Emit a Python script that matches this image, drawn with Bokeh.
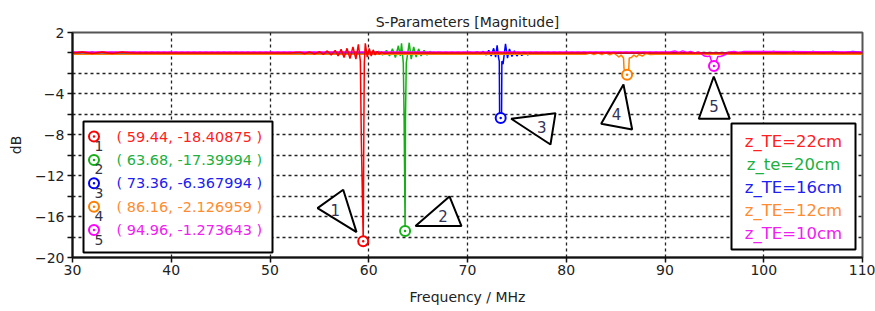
from bokeh.plotting import figure
from bokeh.models import Range1d, FixedTicker, Label
from bokeh.embed import file_html
from bokeh.resources import INLINE

# ---------------- data ----------------
x_ticks = [30, 40, 50, 60, 70, 80, 90, 100, 110]
y_ticks = [2, 0, -2, -4, -6, -8, -10, -12, -14, -16, -18, -20]
y_labeled = [2, -4, -8, -12, -16, -20]

series_names = ["z_TE=22cm", "z_te=20cm", "z_TE=16cm", "z_TE=12cm", "z_TE=10cm"]

red_freq = [30.0, 31.0, 32.0, 33.0, 34.0, 35.0, 36.0, 50.0, 52.0, 53.0, 53.5, 54.0, 54.5, 55.0, 55.4,
            55.8, 56.2, 56.6, 56.9, 57.2, 57.5, 57.8, 58.1, 58.4, 58.7, 58.95, 59.15, 59.25,
            59.44, 59.5, 59.55, 59.65, 59.85, 60.05, 60.25, 60.45, 60.65, 60.85, 61.05, 61.3,
            61.6, 62.0, 110.0]
red_db = [0.0, 0.1, -0.05, 0.1, -0.05, 0.1, 0.0, 0.0, 0.0, 0.08, -0.08, 0.1, -0.1, 0.12, -0.15,
          0.2, -0.2, 0.25, -0.3, 0.35, -0.45, 0.45, -0.55, 0.6, -0.6, 0.85, -0.8, -8.5,
          -18.40875, -8.0, -1.0, 0.95, -0.4, 0.45, -0.3, 0.3, -0.2, 0.15, -0.12, 0.08,
          -0.05, 0.0, 0.0]

green_freq = [30.0, 30.5, 31.0, 31.5, 32.0, 32.5, 33.0, 33.5, 34.0, 35.0, 36.0, 37.0, 38.0, 39.0,
              58.0, 59.5, 60.0, 60.5, 61.0, 61.4, 61.8, 62.1, 62.4, 62.7, 63.0, 63.2, 63.32,
              63.5, 63.58, 63.68, 63.72, 63.8, 64.1, 64.3, 64.55, 64.8, 65.05, 65.3, 65.6,
              65.9, 66.2, 66.6, 67.0, 67.5, 68.0, 110.0]
green_db = [0.1, -0.1, 0.12, -0.1, 0.1, -0.12, 0.1, -0.1, 0.08, -0.08, 0.08, -0.05, 0.05, 0.0,
            0.0, 0.0, 0.05, -0.1, 0.15, -0.2, 0.25, -0.3, 0.4, -0.45, 0.7, -0.3, 0.95,
            -1.0, -6.3, -17.39994, -6.3, -1.0, 1.0, -0.6, 0.6, -0.4, 0.4, -0.3, 0.25,
            -0.2, 0.15, -0.1, 0.08, -0.05, 0.0, 0.0]

blue_freq = [30.0, 69.5, 70.3, 70.7, 71.0, 71.3, 71.6, 71.9, 72.15, 72.4, 72.65, 72.85, 73.0,
             73.15, 73.22, 73.25, 73.36, 73.45, 73.48, 73.6, 73.85, 74.05, 74.25, 74.5, 74.75,
             75.0, 75.25, 75.5, 75.8, 76.1, 76.4, 76.8, 77.2, 100.0, 101.0, 102.0, 103.0,
             104.0, 105.0, 106.0, 107.0, 108.0, 109.0, 110.0]
blue_db = [0.0, 0.0, 0.05, -0.08, 0.1, -0.12, 0.15, -0.2, 0.25, -0.3, 0.45, -0.4, 0.75,
           -0.5, -0.8, -6.0, -6.367994, -6.0, -0.8, -1.1, 0.9, -0.5, 0.4, -0.35, 0.2,
           -0.3, 0.05, -0.25, 0.05, -0.2, 0.0, -0.1, 0.0, 0.0, 0.15, 0.0, 0.15, 0.0,
           0.15, 0.0, 0.15, 0.0, 0.15, 0.05]

orange_freq = [30.0, 82.0, 82.4, 82.8, 83.2, 83.6, 84.0, 84.4, 84.8, 85.15, 85.35, 85.55, 85.8,
               85.85, 86.16, 86.33, 86.38, 86.6, 86.85, 87.1, 87.35, 87.7, 88.1, 88.5, 89.0,
               110.0]
orange_db = [-0.12, -0.12, 0.0, -0.15, 0.0, -0.15, 0.02, -0.18, 0.0, -0.25, -0.4, -0.2, -0.5,
             -1.55, -2.126959, -1.55, -0.5, -0.45, -0.2, -0.4, -0.15, -0.3, -0.05, -0.15, -0.12,
             -0.12]

magenta_freq = [30.0, 90.5, 91.0, 91.4, 91.8, 92.2, 92.6, 93.0, 93.4, 93.7, 94.0, 94.3, 94.55,
                94.7, 94.96, 95.2, 95.35, 95.6, 95.9, 96.2, 96.5, 97.0, 97.5, 98.0, 110.0]
magenta_db = [0.1, 0.1, 0.2, 0.05, 0.2, 0.05, 0.15, 0.0, 0.1, -0.1, -0.3, -0.35, -0.3,
              -0.8, -1.273643, -0.8, -0.35, -0.35, -0.25, -0.1, 0.1, 0.15, 0.05, 0.15, 0.1]

marker_freq = [59.44, 63.68, 73.36, 86.16, 94.96]
marker_db = [-18.40875, -17.39994, -6.367994, -2.126959, -1.273643]
marker_ids = ["1", "2", "3", "4", "5"]

# ---------------- styles ----------------
colors = ["#FF0000", "#14B014", "#0000FF", "#FF8000", "#FF00FF"]
text_colors = ["#FF2020", "#20B040", "#2020F0", "#FF8C30", "#F020F0"]
FONT = "DejaVu Sans"

W, H = 875, 311
# frame placement in page pixels
FL, FR, FT, FB = 72, 862, 32, 257


def px2x(px):
    return 30 + (px - FL) * (110 - 30) / (FR - FL)


def py2y(py):
    return 2 - (py - FT) * 22 / (FB - FT)


XS = (110 - 30) / (FR - FL)   # MHz per pixel
YS = 22 / (FB - FT)           # dB per pixel

p = figure(width=W, height=H, x_range=Range1d(30, 110), y_range=Range1d(-20, 2),
           output_backend="svg", toolbar_location=None,
           title="S-Parameters [Magnitude]")
p.min_border_left = FL
p.min_border_right = W - FR
p.min_border_top = FT
p.min_border_bottom = H - FB
p.background_fill_color = "white"
p.border_fill_color = "white"
p.outline_line_color = "#555555"
p.outline_line_width = 2

p.title.align = "center"
p.title.text_font = FONT
p.title.text_font_size = "14px"
p.title.text_font_style = "normal"
p.title.text_color = "#222222"
p.title.standoff = 6

p.xaxis.ticker = FixedTicker(ticks=x_ticks)
p.yaxis.ticker = FixedTicker(ticks=y_ticks)
p.yaxis.major_label_overrides = {v: "" for v in y_ticks if v not in y_labeled}
for ax in (p.xaxis[0], p.yaxis[0]):
    ax.minor_tick_line_color = None
    ax.major_tick_out = 5
    ax.major_tick_in = 0
    ax.major_tick_line_color = "#111111"
    ax.major_tick_line_width = 1.5
    ax.axis_line_color = "#111111"
    ax.axis_line_width = 2
    ax.major_label_text_font = FONT
    ax.major_label_text_font_size = "14px"
    ax.major_label_text_color = "#222222"
    ax.axis_label_text_font = FONT
    ax.axis_label_text_font_size = "14px"
    ax.axis_label_text_font_style = "normal"
    ax.axis_label_text_color = "#222222"
p.xaxis.axis_label = "Frequency / MHz"
p.yaxis.axis_label = "dB"
p.xaxis.major_label_standoff = 2
p.yaxis.major_label_standoff = 3
p.xaxis.axis_label_standoff = 11
p.yaxis.axis_label_standoff = 8

p.xgrid.ticker = FixedTicker(ticks=x_ticks[1:-1])
p.ygrid.ticker = FixedTicker(ticks=y_ticks[1:-1])
for g in (p.xgrid[0], p.ygrid[0]):
    g.grid_line_color = "#222222"
    g.grid_line_dash = "3 3"
    g.grid_line_width = 1.3

# ---------------- curves ----------------
all_freq = [red_freq, green_freq, blue_freq, orange_freq, magenta_freq]
all_db = [red_db, green_db, blue_db, orange_db, magenta_db]
for i in [1, 2, 3, 4, 0]:
    p.line(all_freq[i], all_db[i], line_color=colors[i], line_width=1.5)

# marker callout triangles: pixel offsets relative to the marker (right, down)
tri_offsets = [
    [(-6.7, -9.1), (-45.7, -33.1), (-20.0, -51.5)],
    [(10.4, -4.8), (44.4, -34.5), (56.4, -4.8)],
    [(10.5, 0.7), (54.8, -4.9), (49.8, 26.4)],
    [(-3.6, 9.8), (-25.9, 49.0), (5.1, 54.8)],
    [(-0.2, 10.5), (-15.2, 52.8), (15.8, 52.8)],
]
tri_label_offsets = [(-28.0, -31.0), (38.0, -15.0), (41.0, 9.0), (-10.5, 39.5), (0.0, 40.0)]

txs, tys = [], []
for f, d, offs in zip(marker_freq, marker_db, tri_offsets):
    txs.append([f + dx * XS for dx, dy in offs])
    tys.append([d - dy * YS for dx, dy in offs])
p.patches(txs, tys, fill_color="white", line_color="black", line_width=2)
for f, d, (dx, dy), t in zip(marker_freq, marker_db, tri_label_offsets, marker_ids):
    p.add_layout(Label(x=f + dx * XS, y=d - dy * YS, text=t, text_align="center",
                       text_baseline="middle", text_font=FONT, text_font_size="15px",
                       text_color="#333355"))

p.scatter(marker_freq, marker_db, marker="circle_dot", size=10, line_color=colors,
          fill_color="white", line_width=2)

# ---------------- marker table (left box) ----------------
p.quad(left=[px2x(83)], right=[px2x(272)], top=[py2y(121)], bottom=[py2y(252)],
       fill_color="white", line_color="black", line_width=2)
row0, step = 136.0, 23.4
rows_y = [py2y(row0 + k * step) for k in range(5)]
p.scatter([px2x(93.5)] * 5, rows_y, marker="circle_dot", size=10, line_color=colors,
          fill_color="white", line_width=2)
for k in range(5):
    p.add_layout(Label(x=px2x(98.5), y=py2y(row0 + k * step + 9.5), text=marker_ids[k],
                       text_align="center", text_baseline="middle", text_font=FONT,
                       text_font_size="14px", text_color="#333344"))
    txt = f"( {marker_freq[k]}, {marker_db[k]} )"
    p.add_layout(Label(x=px2x(116), y=rows_y[k], text=txt, text_align="left",
                       text_baseline="middle", text_font=FONT, text_font_size="14.5px",
                       text_color=text_colors[k]))

# ---------------- series legend (right box) ----------------
p.quad(left=[px2x(731)], right=[px2x(855)], top=[py2y(123)], bottom=[py2y(249)],
       fill_color="white", line_color="black", line_width=2)
for k in range(5):
    p.add_layout(Label(x=px2x(793), y=py2y(140.7 + k * 23.0), text=series_names[k],
                       text_align="center", text_baseline="middle", text_font=FONT,
                       text_font_size="16.5px", text_color=text_colors[k]))

open("out.html", "w").write(file_html(p, INLINE))
